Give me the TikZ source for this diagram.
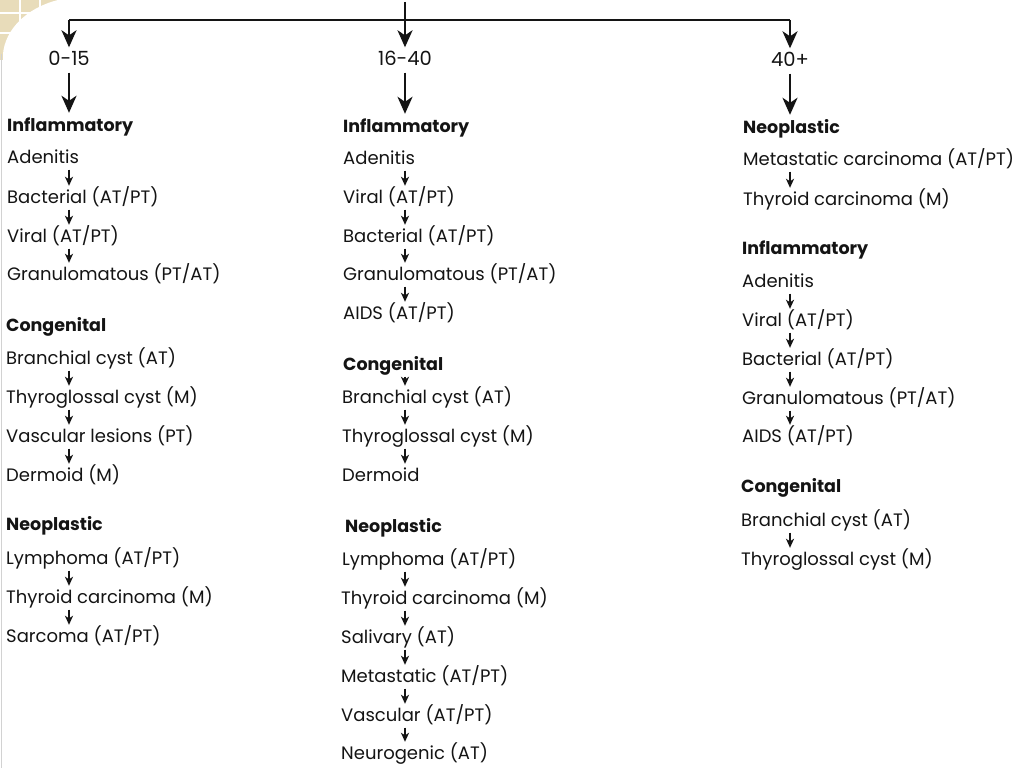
\documentclass[tikz,border=0pt]{standalone}
\usepackage{fontspec}
\setmainfont{Poppins}
\usetikzlibrary{arrows.meta}
\definecolor{beige}{RGB}{232,220,186}
\definecolor{ink}{RGB}{20,20,20}
\begin{document}
\begin{tikzpicture}[x=1pt,y=-1pt,
  item/.style={anchor=west,inner sep=0pt,text=ink,font=\fontsize{18}{18}\selectfont,text height=13pt,text depth=4pt,yshift=-1.5pt},
  head/.style={item,font=\fontsize{17.5}{18}\selectfont\bfseries},
  age/.style={inner sep=0pt,text=ink,font=\fontsize{19.5}{20}\selectfont,text height=13pt,text depth=4pt},
  bigarr/.style={draw=ink,line width=2.3pt,-{Stealth[width=15pt,length=17pt,inset=5pt]}},
  topline/.style={draw=ink,line width=2pt},
  sarr/.style={draw=ink,line width=1.5pt,-{Stealth[width=8pt,length=9pt,inset=2.5pt]},shorten <=2.5pt,shorten >=4pt}]
\useasboundingbox (0,0) rectangle (1024,768);
% corner decoration
\fill[beige] (0,0) rectangle (62,60);
\foreach \gx in {20,40} \draw[white,line width=1.5pt] (\gx,0) -- (\gx,60);
\foreach \gy in {13,33} \draw[white,line width=1.5pt] (0,\gy) -- (62,\gy);
\fill[white] (3,800) -- (3,54) .. controls (5,30) and (26,8) .. (58,0) -- (1030,0) -- (1030,800) -- cycle;
\draw[gray!35,line width=1pt] (1,54) -- (1,768);
% axes
\coordinate (X1) at (69,0);
\coordinate (X2) at (405,0);
\coordinate (X3) at (790,0);
\coordinate (top) at (405,2);
\coordinate (L) at (69,20);
\coordinate (R) at (790,20);
% age nodes
\node[age] (g1) at (69,61) {0-15};
\node[age] (g2) at (405,61) {16-40};
\node[age] (g3) at (790,62) {40+};
\draw[topline] (L) -- (R);
\draw[bigarr,shorten >=5pt] (top) -- (g2.north);
\draw[bigarr,shorten >=5pt] (L) -- (g1.north);
\draw[bigarr,shorten >=5pt] (R) -- (g3.north);
% column 1
\node[head] (h1a) at (7,125) {Inflammatory};
\node[item] (a1) at (7,157) {Adenitis};
\node[item] (a2) at (7,197) {Bacterial (AT/PT)};
\node[item] (a3) at (7,236) {Viral (AT/PT)};
\node[item] (a4) at (7,274) {Granulomatous (PT/AT)};
\node[head] (h1b) at (6,325) {Congenital};
\node[item] (b1) at (6,358) {Branchial cyst (AT)};
\node[item] (b2) at (6,397) {Thyroglossal cyst (M)};
\node[item] (b3) at (6,436) {Vascular lesions (PT)};
\node[item] (b4) at (6,475) {Dermoid (M)};
\node[head] (h1c) at (6,524) {Neoplastic};
\node[item] (c1) at (6,558) {Lymphoma (AT/PT)};
\node[item] (c2) at (6,597) {Thyroid carcinoma (M)};
\node[item] (c3) at (6,636) {Sarcoma (AT/PT)};
% column 2
\node[head] (h2a) at (343,126) {Inflammatory};
\node[item] (d1) at (343,158) {Adenitis};
\node[item] (d2) at (343,197) {Viral (AT/PT)};
\node[item] (d3) at (343,236) {Bacterial (AT/PT)};
\node[item] (d4) at (343,274) {Granulomatous (PT/AT)};
\node[item] (d5) at (343,313) {AIDS (AT/PT)};
\node[head] (h2b) at (343,364) {Congenital};
\node[item] (e1) at (342,397) {Branchial cyst (AT)};
\node[item] (e2) at (342,436) {Thyroglossal cyst (M)};
\node[item] (e3) at (342,475) {Dermoid};
\node[head] (h2c) at (345,526) {Neoplastic};
\node[item] (f1) at (342,559) {Lymphoma (AT/PT)};
\node[item] (f2) at (341,598) {Thyroid carcinoma (M)};
\node[item] (f3) at (341,637) {Salivary (AT)};
\node[item] (f4) at (341,676) {Metastatic (AT/PT)};
\node[item] (f5) at (341,715) {Vascular (AT/PT)};
\node[item] (f6) at (341,753) {Neurogenic (AT)};
% column 3
\node[head] (h3a) at (743,127) {Neoplastic};
\node[item] (k1) at (743,159) {Metastatic carcinoma (AT/PT)};
\node[item] (k2) at (743,199) {Thyroid carcinoma (M)};
\node[head] (h3b) at (742,248) {Inflammatory};
\node[item] (m1) at (742,281) {Adenitis};
\node[item] (m2) at (742,320) {Viral (AT/PT)};
\node[item] (m3) at (742,359) {Bacterial (AT/PT)};
\node[item] (m4) at (742,398) {Granulomatous (PT/AT)};
\node[item] (m5) at (742,436) {AIDS (AT/PT)};
\node[head] (h3c) at (741,486) {Congenital};
\node[item] (n1) at (741,520) {Branchial cyst (AT)};
\node[item] (n2) at (741,559) {Thyroglossal cyst (M)};
% big arrows below ages
\draw[bigarr,shorten <=3pt,shorten >=5pt] (g1.south) -- (h1a.north -| X1);
\draw[bigarr,shorten <=3pt,shorten >=5pt] (g2.south) -- (h2a.north -| X2);
\draw[bigarr,shorten <=3pt,shorten >=5pt] (g3.south) -- (h3a.north -| X3);
% small arrows
\foreach \u/\v in {a1/a2,a2/a3,a3/a4,b1/b2,b2/b3,b3/b4,c1/c2,c2/c3}
  \draw[sarr] (\u.south -| X1) -- (\v.north -| X1);
\foreach \u/\v in {d1/d2,d2/d3,d3/d4,d4/d5,h2b/e1,e1/e2,e2/e3,f1/f2,f2/f3,f3/f4,f4/f5,f5/f6}
  \draw[sarr] (\u.south -| X2) -- (\v.north -| X2);
\foreach \u/\v in {k1/k2,m1/m2,m2/m3,m3/m4,m4/m5,n1/n2}
  \draw[sarr] (\u.south -| X3) -- (\v.north -| X3);
\end{tikzpicture}
\end{document}
